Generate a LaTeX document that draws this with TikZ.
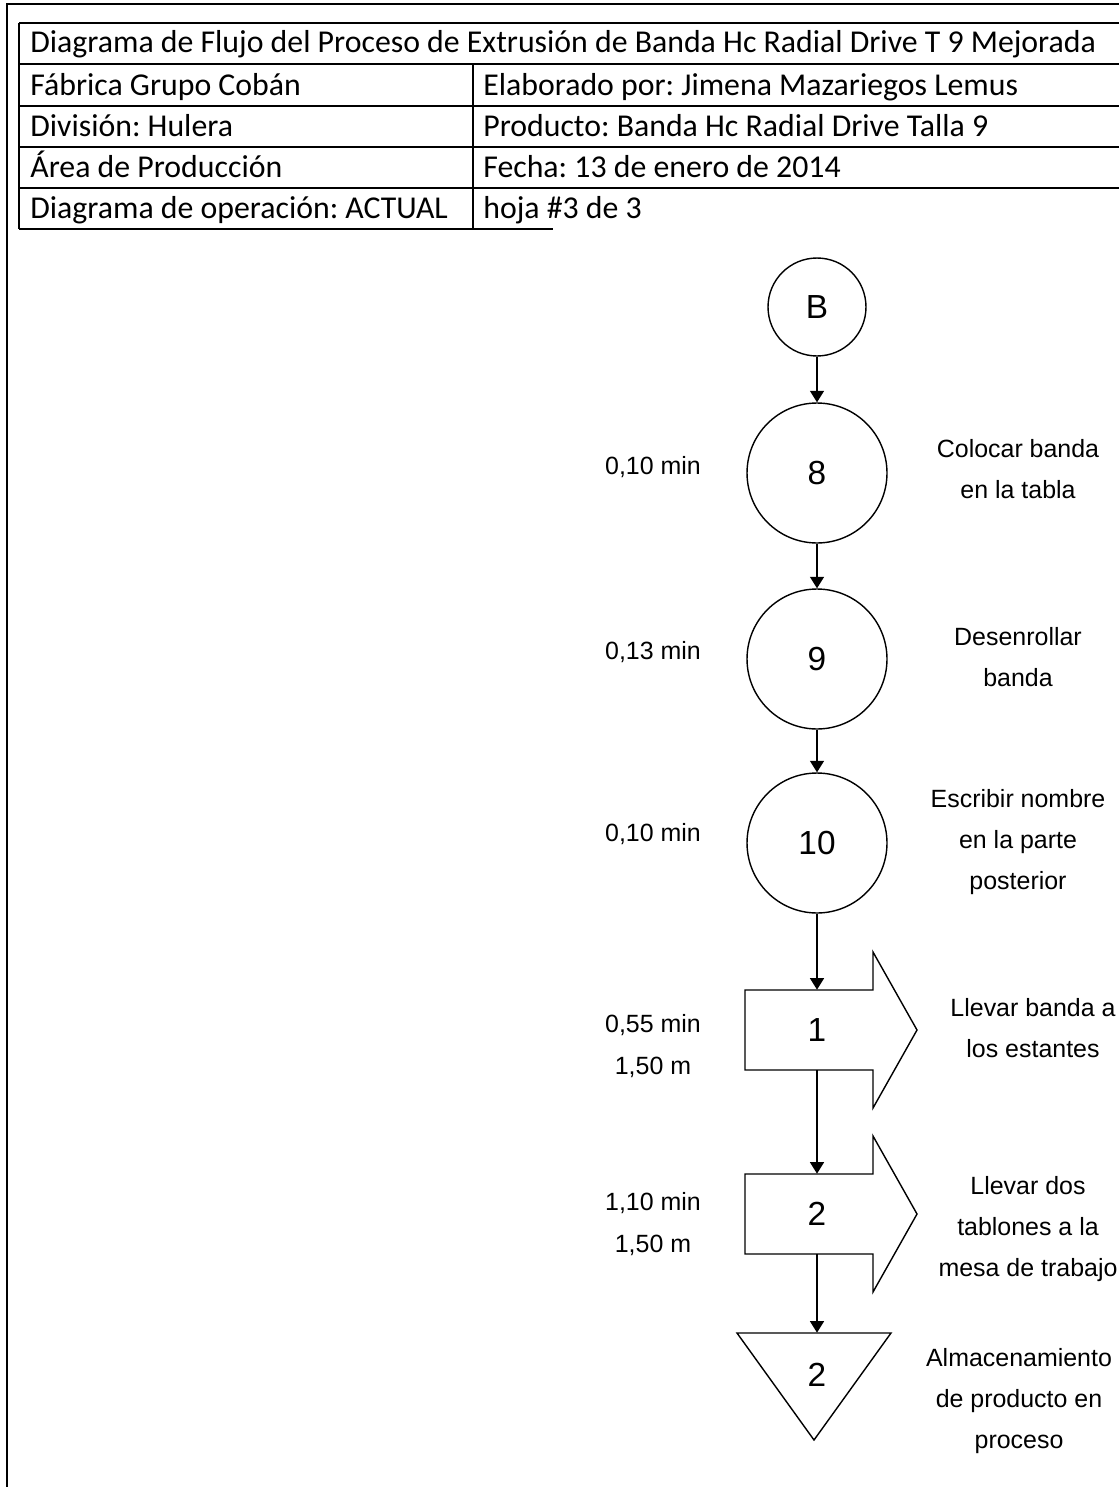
\documentclass[tikz,border=0pt]{standalone}
\usepackage{fontspec}
\setmainfont{Liberation Sans}
\newfontfamily\tablafont{Carlito}
\usetikzlibrary{arrows.meta}
\frenchspacing

\tikzset{
  celda/.style={anchor=base west, inner sep=0pt, font=\tablafont\fontsize{18.1}{20}\selectfont},
  oper/.style={circle, draw, line width=0.8pt, minimum size=2.8cm, inner sep=0pt, font=\fontsize{19}{20}\selectfont},
  simbolo/.style={inner sep=0pt, font=\fontsize{19}{20}\selectfont},
  nota/.style={align=center, inner sep=0pt, font=\fontsize{14.2}{23.5}\selectfont},
  flecha/.style={-{Triangle[length=0.23cm,width=0.28cm]}, line width=0.8pt},
  linea/.style={line width=1.1pt}
}

\begin{document}
\begin{tikzpicture}[x=0.02cm, y=-0.02cm]
            \useasboundingbox (0,0) rectangle (1119,1487);

            % Outer frame
            \draw[line width=1.6pt] (7,1487) -- (7,4) -- (1119,4);

            % Header table
            \draw[linea] (19,23) -- (1119,23);
            \foreach \y in {64,106,147,188}
                \draw[linea] (19,\y) -- (1119,\y);
            \draw[linea] (19,229) -- (553,229);
            \draw[linea] (19,23) -- (19,229);
            \draw[linea] (473,64) -- (473,229);

            \node[celda] (titulo) at (30,53) {Diagrama de Flujo del Proceso de Extrusión de Banda Hc Radial Drive T 9 Mejorada};
            \node[celda] (fabrica) at (30,95) {Fábrica Grupo Cobán};
            \node[celda] (elaborado) at (483,95) {Elaborado por: Jimena Mazariegos Lemus};
            \node[celda] (division) at (30,136) {División: Hulera};
            \node[celda] (producto) at (483,136) {Producto: Banda Hc Radial Drive Talla 9};
            \node[celda] (area) at (30,177) {Área de Producción};
            \node[celda] (fecha) at (483,177) {Fecha: 13 de enero de 2014};
            \node[celda] (diagrama) at (30,218) {Diagrama de operación: ACTUAL};
            \node[celda] (hoja) at (483,218) {hoja \#3 de 3};

            % Operations
            \node[oper, minimum size=1.96cm] (cB) at (817,307) {B};
            \node[oper] (c8) at (817,473) {8};
            \node[oper] (c9) at (817,659) {9};
            \node[oper] (c10) at (817,843) {10};

            % Transports
            \foreach \n/\yc in {1/1030, 2/1214} {
                \draw[line width=0.8pt] (745,{\yc-40}) -- (873,{\yc-40}) -- (873,{\yc-78})
                    -- (917,\yc) -- (873,{\yc+78}) -- (873,{\yc+40}) -- (745,{\yc+40}) -- cycle;
                \node[simbolo, minimum height=1.6cm] (t\n) at (817,\yc) {\n};
            }

            % Storage
            \draw[line width=0.8pt] (737,1333) -- (891,1333) -- (814,1440) -- cycle;
            \node[simbolo, minimum height=1.68cm] (s2) at (817,1375) {2};

            % Connectors
            \draw[flecha] (cB) -- (c8);
            \draw[flecha] (c8) -- (c9);
            \draw[flecha] (c9) -- (c10);
            \draw[flecha] (c10.south) -- (t1.north);
            \draw[flecha] (t1.south) -- (t2.north);
            \draw[flecha] (t2.south) -- (s2.north);

            % Times and distances
            \node[nota] (tiempo8) at (653,467) {0,10 min};
            \node[nota] (tiempo9) at (653,652) {0,13 min};
            \node[nota] (tiempo10) at (653,834) {0,10 min};
            \node[nota] (dist1) at (653,1046) {0,55 min\\1,50 m};
            \node[nota] (dist2) at (653,1224) {1,10 min\\1,50 m};

            % Descriptions
            \node[nota] (desc8) at (1018,469) {Colocar banda\\en la tabla};
            \node[nota] (desc9) at (1018,657) {Desenrollar\\banda};
            \node[nota] (desc10) at (1018,842) {Escribir nombre\\en la parte\\posterior};
            \node[nota] (desct1) at (1033,1028) {Llevar banda a\\los estantes};
            \node[nota] (desct2) at (1028,1229) {Llevar dos\\tablones a la\\mesa de trabajo};
            \node[nota] (descs2) at (1019,1401) {Almacenamiento\\de producto en\\proceso};

        \end{tikzpicture}
\end{document}
